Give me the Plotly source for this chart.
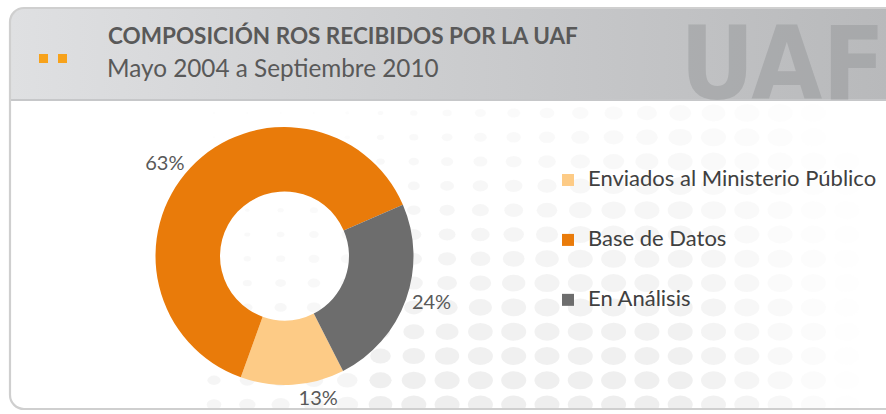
import base64
import plotly.graph_objects as go

# ---- data ----
categories = ["Enviados al Ministerio Público", "Base de Datos", "En Análisis"]
shares = [13, 63, 24]
slice_colors = ["#FDCB86", "#E97B0A", "#6D6D6D"]

title_text = "COMPOSICIÓN ROS RECIBIDOS POR LA UAF"
subtitle_text = "Mayo 2004 a Septiembre 2010"
watermark_text = "UAF"

W, H = 886, 414

# ---- decorative background (panel, header gradient, dot pattern) ----
dots = []
x0 = 214.0
k = 0
while True:
    x = x0 + 33.3 * k
    if x > 900:
        break
    cc = (x - 380) / 33.3
    for r in range(13):
        y = 113 + 24.3 * r
        rx = min(12.5, max(1.0, 0.9 * (cc + 2) + 0.75 * r + 1))
        ry = rx * 0.72
        a = 1.0
        if x > 680:
            a = max(0.0, 1 - (x - 680) / 180)
        a *= 0.25 + 0.65 * r / 12
        if x < 380:
            a *= 0.6
        if a > 0.02:
            dots.append(f'<ellipse cx="{x:.1f}" cy="{y:.1f}" rx="{rx:.1f}" ry="{ry:.1f}" fill="#ECECEC" fill-opacity="{a:.2f}"/>')
    k += 1

svg = f'''<svg xmlns="http://www.w3.org/2000/svg" width="{W}" height="{H}" viewBox="0 0 {W} {H}">
<defs>
<linearGradient id="hg" x1="0" y1="0" x2="1" y2="0">
<stop offset="0" stop-color="#DFE0E2"/>
<stop offset="0.55" stop-color="#C9CACC"/>
<stop offset="1" stop-color="#B7B8BA"/>
</linearGradient>
<clipPath id="pc"><rect x="10" y="8" width="900" height="401" rx="14" ry="14"/></clipPath>
</defs>
<rect x="0" y="0" width="{W}" height="{H}" fill="#FFFFFF"/>
<g clip-path="url(#pc)">
<rect x="10" y="8" width="900" height="401" fill="#FFFFFF"/>
{''.join(dots)}
<rect x="10" y="8" width="900" height="92" fill="url(#hg)"/>
<rect x="10" y="99" width="900" height="2" fill="#C6C7C9"/>
</g>
<rect x="10" y="8" width="900" height="401" rx="14" ry="14" fill="none" stroke="#CFCFCF" stroke-width="2.2"/>
<rect x="39" y="54" width="9" height="9" fill="#F7A21B"/>
<rect x="58" y="54" width="9" height="9" fill="#F7A21B"/>
</svg>'''
bg_uri = "data:image/svg+xml;base64," + base64.b64encode(svg.encode("utf-8")).decode("ascii")

legend_labels = ['<br><span style="font-size:22px">' + c + '</span><br>' for c in categories]

fig = go.Figure()
fig.add_trace(go.Pie(
    labels=legend_labels,
    values=shares,
    hole=0.5,
    sort=False,
    direction="clockwise",
    rotation=153,
    marker=dict(colors=slice_colors, line=dict(width=0)),
    textinfo="percent",
    texttemplate="%{percent:.0%}",
    textposition="outside",
    outsidetextfont=dict(family="Lato, Carlito, sans-serif", size=20, color="#595959"),
    hoverinfo="skip",
    domain=dict(x=[155.5 / W, 413.5 / W], y=[(H - 385) / H, (H - 127) / H]),
))

fig.add_annotation(text="<b>" + title_text + "</b>", xref="paper", yref="paper", x=106 / W, y=1 - 35 / H,
                   xanchor="left", yanchor="middle", showarrow=False,
                   font=dict(family="Lato, sans-serif", size=22.5, color="#595959"))
fig.add_annotation(text=subtitle_text, xref="paper", yref="paper", x=105 / W, y=1 - 67 / H,
                   xanchor="left", yanchor="middle", showarrow=False,
                   font=dict(family="Lato, sans-serif", size=24.3, color="#595959"))
fig.add_annotation(text="<b>" + watermark_text + "</b>", xref="paper", yref="paper", x=678 / W, y=1 - 125.5 / H,
                   xanchor="left", yanchor="bottom", showarrow=False,
                   font=dict(family="Liberation Sans Narrow, DejaVu Sans Condensed, sans-serif",
                             size=102, color="rgba(150,151,153,0.5)"))

fig.update_layout(
    width=W, height=H,
    margin=dict(l=0, r=0, t=0, b=0),
    paper_bgcolor="#FFFFFF",
    plot_bgcolor="rgba(0,0,0,0)",
    showlegend=True,
    legend=dict(x=548 / W, y=1 - 240 / H, xanchor="left", yanchor="middle",
                font=dict(family="Lato, sans-serif", size=14.6, color="#404040"),
                bgcolor="rgba(0,0,0,0)", borderwidth=0),
    images=[dict(source=bg_uri, xref="paper", yref="paper", x=0, y=1,
                 sizex=1, sizey=1, sizing="stretch", xanchor="left", yanchor="top",
                 layer="below")],
)

fig.write_html("out.html", config={"displayModeBar": False},
               post_script="document.body.style.margin='0';document.body.style.overflow='hidden';")
